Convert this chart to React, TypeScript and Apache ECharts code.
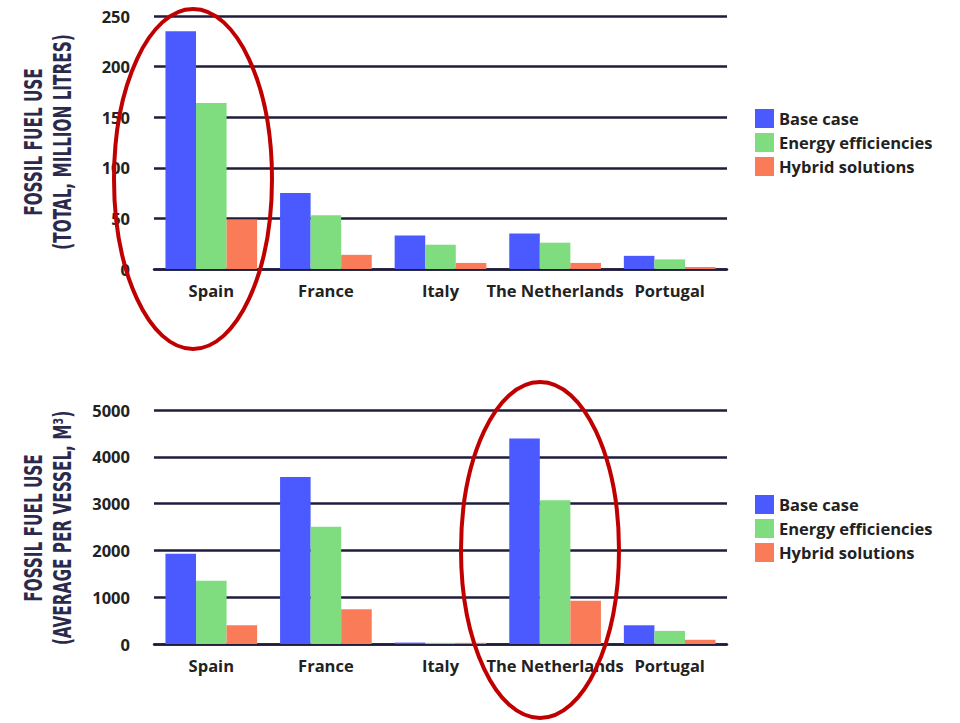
import React, { useEffect, useRef } from "react";
import * as echarts from "echarts";

const categories = ["Spain", "France", "Italy", "The Netherlands", "Portugal"];
const seriesNames = ["Base case", "Energy efficiencies", "Hybrid solutions"];
const totalBase = [235, 75, 33, 35, 13];
const totalEff = [164, 53, 24, 26, 9.5];
const totalHybrid = [49, 14, 6, 6, 2];
const avgBase = [1930, 3570, 30, 4390, 400];
const avgEff = [1350, 2505, 25, 3070, 280];
const avgHybrid = [400, 740, 25, 925, 90];
const topTicks = { min: 0, max: 250, interval: 50 };
const bottomTicks = { min: 0, max: 5000, interval: 1000 };

const colors = ["#4b5aff", "#80dd7f", "#f97b57"];
const gridColor = "#1f1c3c";
const titleColor = "#2b2a4c";
const labelFont = "'Open Sans', sans-serif";

export default function App() {
  const ref = useRef<HTMLDivElement>(null);
  useEffect(() => {
    document.body.style.margin = "0";
    if (!ref.current) return;
    const chart = echarts.init(ref.current, undefined, { renderer: "svg" });

    const yAxisBase = (t: { min: number; max: number; interval: number }, gi: number) => ({
      type: "value" as const,
      gridIndex: gi,
      min: t.min,
      max: t.max,
      interval: t.interval,
      axisLine: { show: false },
      axisTick: { show: false },
      axisLabel: {
        color: "#222",
        fontSize: 16.5,
        fontWeight: "bold",
        fontFamily: labelFont,
        margin: 24,
        formatter: (v: number) => String(v),
      },
      splitLine: { lineStyle: { color: gridColor, width: 2.5 } },
    });
    const xAxisBase = (gi: number) => ({
      type: "category" as const,
      gridIndex: gi,
      data: categories,
      axisLine: { lineStyle: { color: gridColor, width: 2.5 } },
      axisTick: { show: false },
      axisLabel: { color: "#222", fontSize: 16.5, fontWeight: "bold", fontFamily: labelFont, margin: 13, interval: 0 },
    });
    const mk = (name: string, data: number[], i: number, gi: number) => ({
      type: "bar" as const,
      name,
      data,
      xAxisIndex: gi,
      yAxisIndex: gi,
      barGap: "0%",
      barCategoryGap: "20%",
      itemStyle: { color: colors[i] },
    });
    const legendBase = (top: number) => ({
      data: seriesNames,
      orient: "vertical" as const,
      left: 755,
      top,
      padding: 0,
      icon: "rect",
      itemWidth: 19,
      itemHeight: 19,
      itemGap: 5,
      textStyle: { color: "#222", fontSize: 16.5, fontWeight: "bold", fontFamily: labelFont },
    });
    const title = (text: string, x: number, y: number) => ({
      type: "text" as const,
      x,
      y,
      rotation: Math.PI / 2,
      scaleX: 0.68,
      style: {
        text,
        fill: titleColor,
        font: "bold 25px 'Liberation Sans Narrow', 'DejaVu Sans Condensed', sans-serif",
        align: "center",
        verticalAlign: "middle",
      },
    });

    chart.setOption({
      animation: false,
      color: colors,
      grid: [
        { left: 154, top: 16, width: 573, height: 253 },
        { left: 154, top: 410, width: 573, height: 234 },
      ],
      xAxis: [xAxisBase(0), xAxisBase(1)],
      yAxis: [yAxisBase(topTicks, 0), yAxisBase(bottomTicks, 1)],
      legend: [legendBase(109), legendBase(495)],
      series: [
        mk(seriesNames[0], totalBase, 0, 0),
        mk(seriesNames[1], totalEff, 1, 0),
        mk(seriesNames[2], totalHybrid, 2, 0),
        mk(seriesNames[0], avgBase, 0, 1),
        mk(seriesNames[1], avgEff, 1, 1),
        mk(seriesNames[2], avgHybrid, 2, 1),
      ],
      graphic: [
        title("FOSSIL FUEL USE", 33, 142),
        title("(TOTAL, MILLION LITRES)", 62, 142),
        title("FOSSIL FUEL USE", 33, 528),
        title("(AVERAGE PER VESSEL, M³)", 62, 528),
        {
          type: "ellipse",
          shape: { cx: 193, cy: 179, rx: 79, ry: 170 },
          style: { fill: "none", stroke: "#c00000", lineWidth: 4 },
          z: 100,
        },
        {
          type: "ellipse",
          shape: { cx: 540, cy: 550, rx: 79, ry: 168 },
          style: { fill: "none", stroke: "#c00000", lineWidth: 4 },
          z: 100,
        },
      ],
    });
    return () => chart.dispose();
  }, []);
  return <div ref={ref} style={{ width: 960, height: 723 }} />;
}
